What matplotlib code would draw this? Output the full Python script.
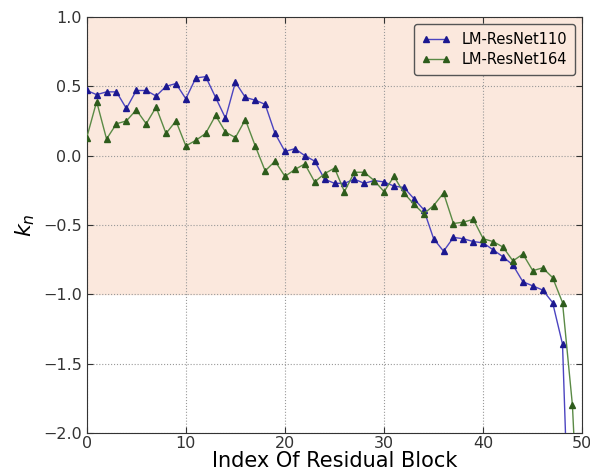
import numpy as np
import matplotlib
matplotlib.use('Agg')
import matplotlib.pyplot as plt

# k_n per residual block
kn_110 = [0.47, 0.44, 0.46, 0.46, 0.34, 0.47, 0.47, 0.43, 0.50, 0.52,
          0.41, 0.56, 0.57, 0.42, 0.27, 0.53, 0.42, 0.40, 0.37, 0.16,
          0.03, 0.05, 0.00, -0.04, -0.17, -0.20, -0.20, -0.17, -0.20, -0.18,
          -0.19, -0.22, -0.23, -0.31, -0.39, -0.60, -0.69, -0.59, -0.60, -0.62,
          -0.63, -0.68, -0.73, -0.79, -0.91, -0.94, -0.97, -1.06, -1.36, -3.5]
kn_164 = [0.13, 0.39, 0.12, 0.23, 0.25, 0.33, 0.23, 0.35, 0.16, 0.25,
          0.07, 0.11, 0.16, 0.29, 0.17, 0.13, 0.26, 0.07, -0.11, -0.04,
          -0.15, -0.10, -0.06, -0.19, -0.13, -0.09, -0.26, -0.12, -0.12, -0.18,
          -0.26, -0.15, -0.27, -0.35, -0.42, -0.36, -0.27, -0.49, -0.48, -0.46,
          -0.60, -0.62, -0.66, -0.76, -0.71, -0.83, -0.81, -0.88, -1.06, -1.80,
          -3.3]
labels = ['LM-ResNet110', 'LM-ResNet164']

plt.rcParams['font.family'] = 'DejaVu Sans'

fig = plt.figure(figsize=(5.9, 4.73), dpi=100)
ax = fig.add_axes([0.147, 0.085, 0.84, 0.879])

ax.axhspan(-1, 1, color='#fbe8dd', zorder=0)

ax.plot(np.arange(len(kn_110)), kn_110, color='#4b44c0', marker='^',
        markersize=5, markerfacecolor='#1c1890', markeredgecolor='#1c1890',
        linewidth=1.0, label=labels[0], zorder=3)
ax.plot(np.arange(len(kn_164)), kn_164, color='#5a8a45', marker='^',
        markersize=5, markerfacecolor='#2e5c1c', markeredgecolor='#2e5c1c',
        linewidth=1.0, label=labels[1], zorder=3)

ax.set_xlim(0, 50)
ax.set_ylim(-2, 1)
ax.set_xticks([0, 10, 20, 30, 40, 50])
ax.set_yticks([-2.0, -1.5, -1.0, -0.5, 0.0, 0.5, 1.0])
ax.grid(True, linestyle=':', color='#999999', linewidth=0.8)
ax.tick_params(direction='in', top=True, right=True, labelsize=11.5,
               length=4, colors='#333333')
ax.tick_params(axis='x', pad=2)
for s in ax.spines.values():
    s.set_color('#333333')

ax.set_xlabel('Index Of Residual Block', fontsize=15, labelpad=0)
ax.set_ylabel('$k_n$', fontsize=16)

leg = ax.legend(loc='upper right', numpoints=2, fontsize=10.5, fancybox=True,
                framealpha=1.0, borderpad=0.5, handlelength=2.0,
                labelspacing=0.4)
leg.get_frame().set_edgecolor('#555555')
leg.get_frame().set_facecolor('#fbe8dd')

fig.savefig('out.png', dpi=100)
